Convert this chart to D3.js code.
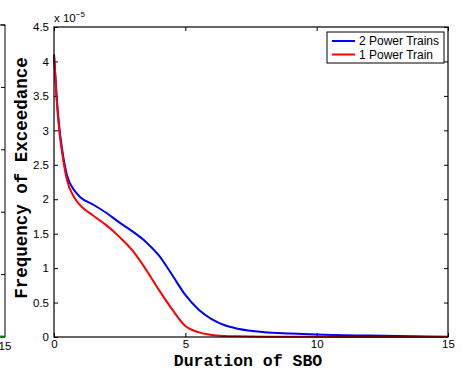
<!DOCTYPE html>
<html>
<head>
<meta charset="utf-8">
<script src="https://cdn.jsdelivr.net/npm/d3@7"></script>
<style>
  body { margin: 0; background: #fff; }
  svg { display: block; }
</style>
</head>
<body>
<svg id="chart"></svg>
<script>
// durations (x) and frequencies of exceedance (x 1e-5)
const durations = [0, 0.1, 0.2, 0.3, 0.5, 0.75, 1, 1.5, 2, 2.5, 3, 3.5, 4, 4.5, 5, 5.5, 6, 6.5, 7, 8, 9, 10, 12, 15];
const twoTrains = [4.1, 3.5, 3.05, 2.75, 2.34, 2.14, 2.03, 1.92, 1.80, 1.66, 1.53, 1.38, 1.18, 0.90, 0.61, 0.40, 0.26, 0.17, 0.12, 0.07, 0.05, 0.035, 0.02, 0.005];
const oneTrain = [4.1, 3.45, 3.0, 2.7, 2.27, 2.04, 1.91, 1.76, 1.62, 1.45, 1.25, 0.98, 0.68, 0.40, 0.16, 0.07, 0.03, 0.015, 0.01, 0.005, 0.003, 0.002, 0.001, 0];
const xTicks = [0, 5, 10, 15];
const yTicks = [0, 0.5, 1, 1.5, 2, 2.5, 3, 3.5, 4, 4.5];
const legendItems = [
  { color: "#0000ff", text: "2 Power Trains" },
  { color: "#ff0000", text: "1 Power Train" }
];
// neighbouring panel (cut off at the left edge)
const leftX = [13.5, 14, 14.5, 15];
const leftY = [0.02, 0.015, 0.01, 0.005];
const leftYTicks = [0, 1, 2, 3, 4, 5];

const width = 463, height = 371;
const margin = { top: 27, right: 15, bottom: 34, left: 54 };
const w = width - margin.left - margin.right;
const h = height - margin.top - margin.bottom;

const svg = d3.select("#chart").attr("width", width).attr("height", height);

// ---- left neighbour panel ----
const lx = d3.scaleLinear().domain([0, 15]).range([5 - 394, 5]);
const ly = d3.scaleLinear().domain([0, 5]).range([337, 25]);
const lp = svg.append("g");
lp.append("rect").attr("x", lx(0)).attr("y", ly(5)).attr("width", lx(15) - lx(0)).attr("height", ly(0) - ly(5))
  .attr("fill", "none").attr("stroke", "#000").attr("stroke-width", 1);
lp.selectAll(".lt").data(leftYTicks).enter().append("line")
  .attr("x1", lx(15)).attr("x2", lx(15) - 4).attr("y1", d => ly(d)).attr("y2", d => ly(d))
  .attr("stroke", "#000");
lp.append("path").datum(leftX.map((d, i) => [d, leftY[i]]))
  .attr("d", d3.line().x(d => lx(d[0])).y(d => ly(d[1])))
  .attr("fill", "none").attr("stroke", "#008000").attr("stroke-width", 2);
lp.append("text").attr("x", lx(15)).attr("y", 350).attr("text-anchor", "middle")
  .style("font-family", "Liberation Sans, Arial, sans-serif").style("font-size", "11.5px").text("15");

// ---- main panel ----
const x = d3.scaleLinear().domain([0, 15]).range([0, w]);
const y = d3.scaleLinear().domain([0, 4.5]).range([h, 0]);

const g = svg.append("g").attr("transform", `translate(${margin.left},${margin.top})`);

const tickFont = "Liberation Sans, Arial, sans-serif";

// axes with inward ticks
const xAxis = g.append("g").attr("transform", `translate(0,${h})`)
  .call(d3.axisBottom(x).tickValues(xTicks).tickSizeInner(-4).tickSizeOuter(0).tickPadding(3));
const xAxisTop = g.append("g")
  .call(d3.axisTop(x).tickValues(xTicks).tickSizeInner(-4).tickSizeOuter(0).tickFormat(""));
const yAxis = g.append("g")
  .call(d3.axisLeft(y).tickValues(yTicks).tickSizeInner(-4).tickSizeOuter(0).tickPadding(5).tickFormat(d3.format("")));
const yAxisRight = g.append("g").attr("transform", `translate(${w},0)`)
  .call(d3.axisRight(y).tickValues(yTicks).tickSizeInner(-4).tickSizeOuter(0).tickFormat(""));
[xAxis, xAxisTop, yAxis, yAxisRight].forEach(a => {
  a.selectAll(".domain").remove();
  a.selectAll("text").style("font-family", tickFont).style("font-size", "11.5px").attr("fill", "#000");
});

// lines
const line = d3.line().x((d, i) => x(durations[i])).y(d => y(d)).curve(d3.curveMonotoneX);
g.append("path").datum(twoTrains).attr("d", line)
  .attr("fill", "none").attr("stroke", legendItems[0].color).attr("stroke-width", 2);
g.append("path").datum(oneTrain).attr("d", line)
  .attr("fill", "none").attr("stroke", legendItems[1].color).attr("stroke-width", 2);

// box
g.append("rect").attr("width", w).attr("height", h)
  .attr("fill", "none").attr("stroke", "#000").attr("stroke-width", 1.2);

// exponent label
const expo = g.append("text").attr("x", 0).attr("y", -5)
  .style("font-family", tickFont).style("font-size", "11.5px");
expo.append("tspan").text("x 10");
expo.append("tspan").attr("dy", -5).style("font-size", "8px").text("\u22125");

// axis titles
g.append("text").attr("x", w / 2 - 3).attr("y", h + 29).attr("text-anchor", "middle")
  .style("font-family", "Liberation Mono, Courier New, monospace").style("font-weight", "bold")
  .style("font-size", "16.5px").text("Duration of SBO");
g.append("text").attr("transform", `translate(${-27},${h / 2 - 4}) rotate(-90)`).attr("text-anchor", "middle")
  .style("font-family", "Liberation Mono, Courier New, monospace").style("font-weight", "bold")
  .style("font-size", "17.5px").text("Frequency of Exceedance");

// legend
const legend = g.append("g").attr("transform", `translate(${273},${5})`);
legend.append("rect").attr("width", 117).attr("height", 31)
  .attr("fill", "#fff").attr("stroke", "#000").attr("stroke-width", 1);
const lg = legend.selectAll(".item").data(legendItems).enter().append("g")
  .attr("transform", (d, i) => `translate(0,${9 + i * 13.5})`);
lg.append("line").attr("x1", 5).attr("x2", 28).attr("y1", 0).attr("y2", 0)
  .attr("stroke", d => d.color).attr("stroke-width", 2);
lg.append("text").attr("x", 32).attr("y", 4)
  .style("font-family", tickFont).style("font-size", "12px").text(d => d.text);
</script>
</body>
</html>
